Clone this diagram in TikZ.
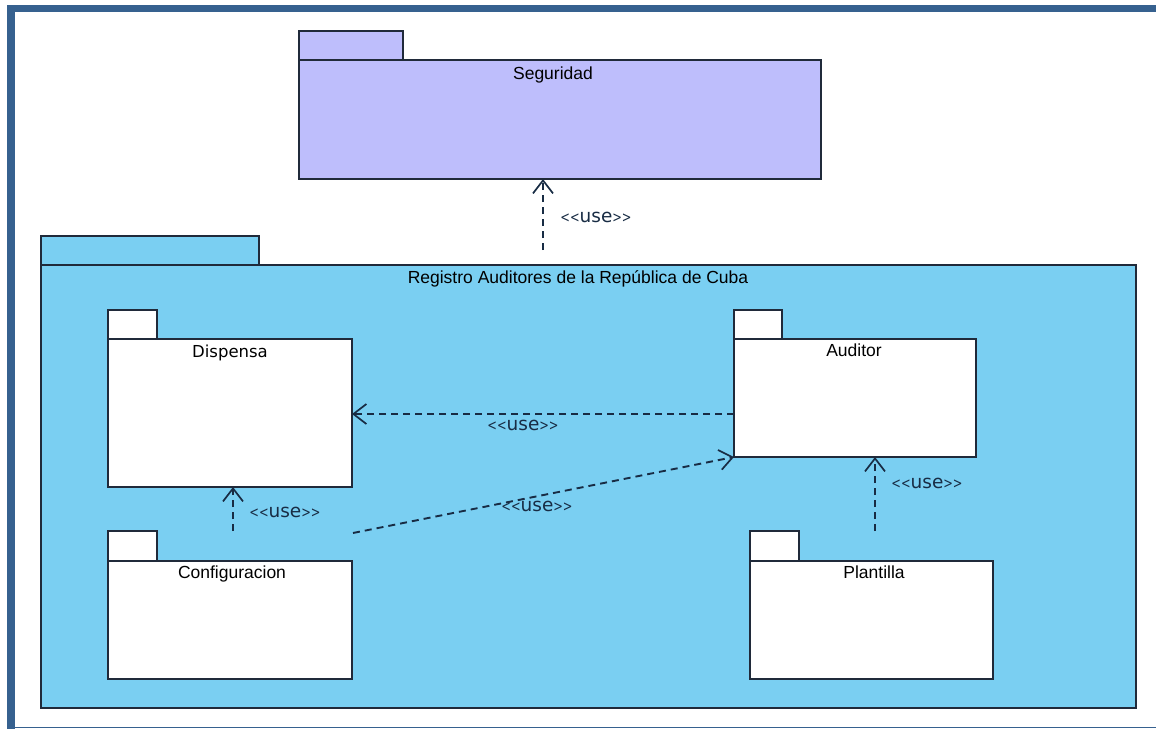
\documentclass[tikz,border=0pt]{standalone}
\usepackage{fontspec}
\setmainfont{Liberation Sans}
\newfontfamily\dejavu{DejaVu Sans}
\usetikzlibrary{arrows.meta,calc}

\definecolor{frameblue}{RGB}{54,97,143}
\definecolor{segfill}{RGB}{190,190,252}
\definecolor{regfill}{RGB}{122,207,242}
\definecolor{pkgline}{RGB}{32,42,58}
\definecolor{depline}{RGB}{24,44,68}

% narrow angle brackets around the stereotype
\newcommand\nlt{\scalebox{0.62}[0.8]{<}}
\newcommand\ngt{\scalebox{0.62}[0.8]{>}}
\newcommand\usestereo{\nlt\nlt use\ngt\ngt}

\tikzset{
  pkgbody/.style={draw=pkgline, line width=1.4pt, inner sep=0pt, outer sep=0pt,
                  anchor=north west, fill=white},
  pkgtab/.style={draw=pkgline, line width=1.4pt, inner sep=0pt, outer sep=0pt,
                 anchor=south west, minimum height=29pt, fill=white},
  pkgtitle/.style={inner sep=0pt, anchor=base, text=black,
                   font=\fontsize{17.5}{20}\selectfont},
  pkgtitlealt/.style={inner sep=0pt, anchor=base, text=black,
                      font=\dejavu\fontsize{16.5}{19}\selectfont},
  uselabel/.style={inner sep=0pt, anchor=base, text=depline,
                   font=\dejavu\fontsize{18.5}{20}\selectfont},
  usedep/.style={draw=depline, line width=1.9pt, dash pattern=on 7pt off 5pt,
                 -{Straight Barb[length=13pt,width=20pt,line width=1.7pt]}},
}

\begin{document}
\begin{tikzpicture}[x=1pt,y=-1pt]
\useasboundingbox (0,0) rectangle (1156,729);

% page frame
\fill[frameblue] (7,5) rectangle (1156,12);
\fill[frameblue] (7,5) rectangle (15,729);
\draw[frameblue, line width=1.2pt] (15,727.5) -- (1156,727.5);

% Seguridad package
\node[pkgbody, fill=segfill, minimum width=522pt, minimum height=119pt] (seg) at (299,60) {};
\node[pkgtab, fill=segfill, minimum width=104pt] (segTab) at (seg.north west) {};
\node[pkgtitle] (segTitle) at (553,79) {Seguridad};

% Registro package (container)
\node[pkgbody, fill=regfill, minimum width=1095pt, minimum height=443pt] (reg) at (41,265) {};
\node[pkgtab, fill=regfill, minimum width=218pt] (regTab) at (reg.north west) {};
\node[pkgtitle] (regTitle) at (578,283) {Registro Auditores de la República de Cuba};

% inner packages
\node[pkgbody, minimum width=244pt, minimum height=148pt] (disp) at (108,339) {};
\node[pkgtab, minimum width=49pt] (dispTab) at (disp.north west) {};
\node[pkgtitlealt] (dispTitle) at (230,357) {Dispensa};

\node[pkgbody, minimum width=242pt, minimum height=118pt] (aud) at (734,339) {};
\node[pkgtab, minimum width=48pt] (audTab) at (aud.north west) {};
\node[pkgtitle] (audTitle) at (854,356.5) {Auditor};

\node[pkgbody, minimum width=244pt, minimum height=118pt] (conf) at (108,561) {};
\node[pkgtab, minimum width=49pt, minimum height=30pt] (confTab) at (conf.north west) {};
\node[pkgtitle] (confTitle) at (232,578) {Configuracion};

\node[pkgbody, minimum width=243pt, minimum height=118pt] (plant) at (750,561) {};
\node[pkgtab, minimum width=49pt, minimum height=30pt] (plantTab) at (plant.north west) {};
\node[pkgtitle] (plantTitle) at (874,578) {Plantilla};

% free ends of the dependencies
\coordinate (regUse) at (543,250);
\coordinate (confUseD) at (233,531);
\coordinate (confUseA) at (353,533);
\coordinate (plantUse) at (875,531);

% dependencies
\draw[usedep] (regUse) -- (seg.south -| regUse);
\draw[usedep] (aud.west |- 0,414) -- (disp.east |- 0,414);
\draw[usedep] (confUseA) -- (aud.south west);
\draw[usedep] (confUseD) -- (disp.south -| confUseD);
\draw[usedep] (plantUse) -- (aud.south -| plantUse);

% stereotype labels
\node[uselabel] (lblSeg) at (596,222) {\usestereo};
\node[uselabel] (lblDisp) at (523,430) {\usestereo};
\node[uselabel] (lblConfAud) at (537,511) {\usestereo};
\node[uselabel] (lblConfDisp) at (285,517) {\usestereo};
\node[uselabel] (lblPlant) at (927,488) {\usestereo};
\end{tikzpicture}
\end{document}
